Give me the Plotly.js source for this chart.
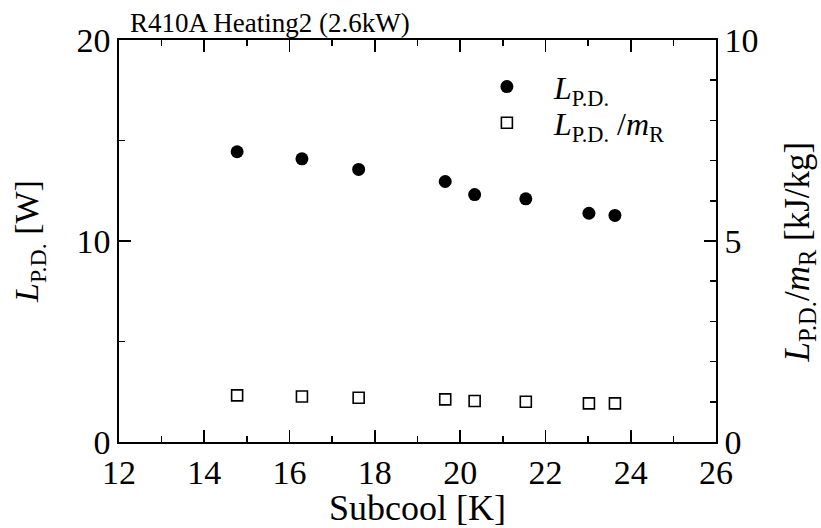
<!DOCTYPE html>
<html>
<head>
<meta charset="utf-8">
<script src="https://cdn.plot.ly/plotly-3.0.1.min.js"></script>
<style>html,body{margin:0;padding:0;background:#fff;}#chart{width:821px;height:528px;}</style>
</head>
<body>
<div id="chart"></div>
<script>
const subcool = [14.77, 16.29, 17.62, 19.65, 20.34, 21.54, 23.02, 23.63];
const lossW = [14.44, 14.09, 13.56, 12.96, 12.31, 12.10, 11.38, 11.27];
const lossPerMass = [1.16, 1.13, 1.10, 1.06, 1.02, 1.00, 0.96, 0.96];
const seriesNames = ['<i>L</i><sub>P.D.</sub>', '<i>L</i><sub>P.D.</sub> /<i>m</i><sub>R</sub>'];
const chartTitle = 'R410A Heating2 (2.6kW)';
const xTitle = 'Subcool [K]';
const yTitle = '<i>L</i><sub>P.D.</sub> [W]';
const y2Title = '<i>L</i><sub>P.D.</sub>/<i>m</i><sub>R</sub> [kJ/kg]';

const FONT = 'Liberation Serif';

const traces = [
  {x: subcool, y: lossW, name: seriesNames[0], type: 'scatter', mode: 'markers', legend: 'legend',
   marker: {symbol: 'circle', size: 13, color: '#000', line: {width: 0}}},
  {x: subcool, y: lossPerMass, name: seriesNames[1], type: 'scatter', mode: 'markers', yaxis: 'y2', legend: 'legend2',
   marker: {symbol: 'square-open', size: 11, color: '#000', line: {width: 1.6, color: '#000'}}}
];

const axisCommon = {
  showline: true, linecolor: '#000', linewidth: 1.6, showgrid: false, zeroline: false,
  ticks: 'inside', tickcolor: '#000', tickwidth: 1.6, ticklen: 12,
  tickfont: {family: FONT, size: 34, color: '#000'}
};

const legendCommon = {xanchor: 'left', yanchor: 'top', bgcolor: 'rgba(0,0,0,0)',
  font: {family: FONT, size: 32, color: '#000'}, itemwidth: 84};

const layout = {
  width: 821, height: 528,
  margin: {l: 119, r: 105, t: 40, b: 86},
  paper_bgcolor: '#fff', plot_bgcolor: '#fff',
  font: {family: FONT, color: '#000'},
  showlegend: true,
  legend: Object.assign({x: 0.571, y: 0.952}, legendCommon),
  legend2: Object.assign({x: 0.571, y: 0.862}, legendCommon),
  xaxis: Object.assign({}, axisCommon, {
    range: [12, 26], dtick: 2, tick0: 12, mirror: 'ticks',
    minor: {dtick: 1, ticks: 'inside', ticklen: 6, tickcolor: '#000', tickwidth: 1.6},
    title: {text: xTitle, font: {family: FONT, size: 36, color: '#000'}, standoff: 8}
  }),
  yaxis: Object.assign({}, axisCommon, {
    range: [0, 20], dtick: 10, tick0: 0,
    minor: {dtick: 5, ticks: 'inside', ticklen: 6, tickcolor: '#000', tickwidth: 1.6},
    title: {text: yTitle, font: {family: FONT, size: 34, color: '#000'}, standoff: 27}
  }),
  yaxis2: Object.assign({}, axisCommon, {
    range: [0, 10], dtick: 5, tick0: 0, overlaying: 'y', side: 'right',
    minor: {dtick: 1, ticks: 'inside', ticklen: 6, tickcolor: '#000', tickwidth: 1.6}
  }),
  annotations: [
    {text: chartTitle, xref: 'paper', yref: 'paper', x: 0.015, y: 1.0, xanchor: 'left', yanchor: 'bottom',
     showarrow: false, font: {family: FONT, size: 27, color: '#000'}},
    {text: y2Title, xref: 'paper', yref: 'paper', x: 1.139, y: 0.474, xanchor: 'center', yanchor: 'middle',
     textangle: -90, showarrow: false, font: {family: FONT, size: 35, color: '#000'}}
  ]
};

Plotly.newPlot('chart', traces, layout, {displayModeBar: false, staticPlot: true});
</script>
</body>
</html>
